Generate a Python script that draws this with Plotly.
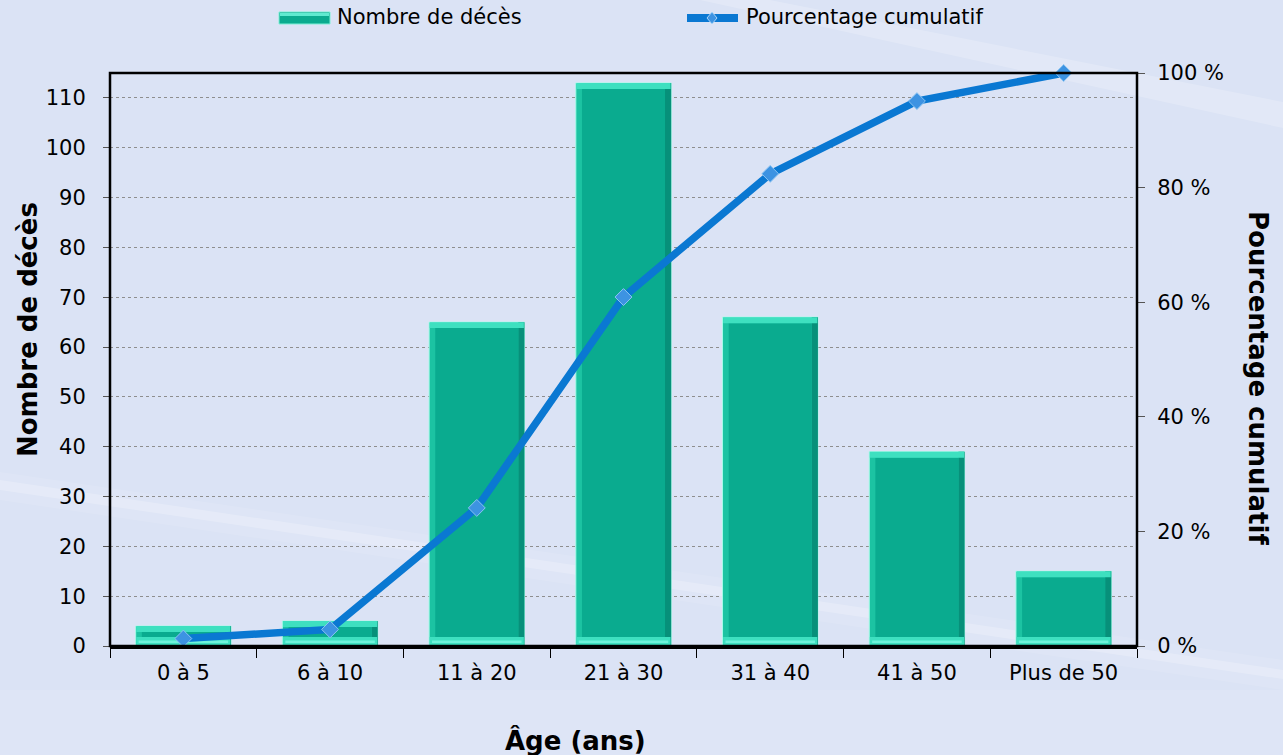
import plotly.graph_objects as go

# Deaths by age group, with cumulative percentage (Pareto view)
age_groups = ["0 à 5", "6 à 10", "11 à 20", "21 à 30", "31 à 40", "41 à 50", "Plus de 50"]
deaths = [4, 5, 65, 113, 66, 39, 15]
cumulative_pct = [1.3, 2.9, 24.1, 60.9, 82.4, 95.1, 100.0]
left_ticks = list(range(0, 111, 10))
right_ticks = [0, 20, 40, 60, 80, 100]
right_tick_text = [f"{v} %" for v in right_ticks]

FONT = "DejaVu Sans"
W, H = 1283, 755
L, R, T, B = 110, 146, 73, 109
PW, PH = W - L - R, H - T - B

BAR_W = 0.65      # bar width, in category units
SIDE = 0.042      # bevel side width, in category units
TOP_BEVEL = 1.2   # bevel heights, in value units
BOT_BEVEL = 1.8

FACE = "#0aab8f"
LIGHT = "#3ee0c0"
SIDE_LIGHT = "#1cc3a2"
SIDE_DARK = "#07907a"
LINE_BLUE = "#0a78d2"


def px_x(p):
    return (p - L) / PW


def px_y(p):
    return (H - B - p) / PH


def bar_layer(y, base, offset, width, color, line=None):
    return go.Bar(
        x=age_groups, y=y, base=base, offset=offset, width=width,
        marker=dict(color=color, line=line or dict(width=0)),
        showlegend=False, hoverinfo="skip",
    )


fig = go.Figure()
n = len(deaths)
half = BAR_W / 2

# bevelled bars: outline, sides, face, top and bottom highlights
fig.add_trace(bar_layer(deaths, [0] * n, -half, BAR_W, SIDE_LIGHT,
                        dict(color="#a6fbe8", width=1)))
fig.add_trace(bar_layer(deaths, [0] * n, half - SIDE, SIDE, SIDE_DARK))
fig.add_trace(bar_layer([max(v - TOP_BEVEL - BOT_BEVEL, 0) for v in deaths],
                        [BOT_BEVEL] * n, -half + SIDE, BAR_W - 2 * SIDE, FACE))
fig.add_trace(bar_layer([TOP_BEVEL] * n, [v - TOP_BEVEL for v in deaths],
                        -half + 0.004, BAR_W - 0.008, LIGHT))
fig.add_trace(bar_layer([BOT_BEVEL] * n, [0] * n,
                        -half + 0.004, BAR_W - 0.008, LIGHT))
fig.add_trace(bar_layer([0.5] * n, [0.6] * n,
                        -half + 0.02, BAR_W - 0.04, "#6ff3da"))

# cumulative percentage line
fig.add_trace(go.Scatter(
    x=age_groups, y=cumulative_pct, yaxis="y2", name="Pourcentage cumulatif",
    mode="lines+markers",
    line=dict(color=LINE_BLUE, width=7.5),
    marker=dict(symbol="diamond", size=13, color="#3d93e2",
                line=dict(color="#8cc4f2", width=1)),
    cliponaxis=False, showlegend=False,
))

shapes = [
    # soft light streaks across the background
    dict(type="path", xref="paper", yref="paper", layer="below",
         path=f"M {px_x(0)},{px_y(472)} L {px_x(1283)},{px_y(660)} L {px_x(1283)},{px_y(690)} "
              f"L {px_x(0)},{px_y(500)} Z",
         fillcolor="rgba(255,255,255,0.10)", line=dict(width=0)),
    dict(type="path", xref="paper", yref="paper", layer="below",
         path=f"M {px_x(0)},{px_y(480)} L {px_x(1283)},{px_y(670)} L {px_x(1283)},{px_y(679)} "
              f"L {px_x(0)},{px_y(490)} Z",
         fillcolor="rgba(255,255,255,0.22)", line=dict(width=0)),
    dict(type="path", xref="paper", yref="paper", layer="below",
         path=f"M {px_x(700)},{px_y(0)} L {px_x(770)},{px_y(0)} L {px_x(1283)},{px_y(102)} "
              f"L {px_x(1283)},{px_y(128)} Z",
         fillcolor="rgba(255,255,255,0.2)", line=dict(width=0)),
    dict(type="path", xref="paper", yref="paper", layer="below",
         path=f"M {px_x(0)},{px_y(690)} L {px_x(1283)},{px_y(690)} L {px_x(1283)},{px_y(755)} "
              f"L {px_x(0)},{px_y(755)} Z",
         fillcolor="rgba(255,255,255,0.10)", line=dict(width=0)),
    # chart frame
    dict(type="rect", xref="paper", yref="paper", x0=0, x1=1, y0=0, y1=1,
         line=dict(color="black", width=2.5), layer="above"),
    # legend keys
    dict(type="rect", xref="paper", yref="paper",
         x0=px_x(279), x1=px_x(330), y0=px_y(24), y1=px_y(12),
         fillcolor=FACE, line=dict(color="#7cf0d6", width=1)),
    dict(type="rect", xref="paper", yref="paper",
         x0=px_x(280), x1=px_x(329), y0=px_y(16), y1=px_y(13),
         fillcolor="#5fead0", line=dict(width=0)),
    dict(type="line", xref="paper", yref="paper",
         x0=px_x(687), x1=px_x(738), y0=px_y(18), y1=px_y(18),
         line=dict(color=LINE_BLUE, width=8)),
    dict(type="path", xref="paper", yref="paper",
         path=f"M {px_x(712)},{px_y(12)} L {px_x(717)},{px_y(18)} L {px_x(712)},{px_y(24)} "
              f"L {px_x(707)},{px_y(18)} Z",
         fillcolor="#3d93e2", line=dict(color="#a9d4f7", width=1)),
]

annotations = [
    dict(text="Nombre de décès", xref="paper", yref="paper",
         x=px_x(335), y=px_y(17), xanchor="left", yanchor="middle", showarrow=False,
         font=dict(size=21, family=FONT, color="black")),
    dict(text="Pourcentage cumulatif", xref="paper", yref="paper",
         x=px_x(744), y=px_y(17), xanchor="left", yanchor="middle", showarrow=False,
         font=dict(size=21, family=FONT, color="black")),
    dict(text="<b>Nombre de décès</b>", xref="paper", yref="paper",
         x=px_x(28), y=px_y(330), xanchor="center", yanchor="middle",
         textangle=-90, showarrow=False,
         font=dict(size=26, family=FONT, color="black")),
    dict(text="<b>Pourcentage cumulatif</b>", xref="paper", yref="paper",
         x=px_x(1258), y=px_y(378), xanchor="center", yanchor="middle",
         textangle=90, showarrow=False,
         font=dict(size=26, family=FONT, color="black")),
    dict(text="<b>Âge (ans)</b>", xref="paper", yref="paper",
         x=px_x(575), y=px_y(740), xanchor="center", yanchor="middle", showarrow=False,
         font=dict(size=26, family=FONT, color="black")),
]

fig.update_layout(
    width=W, height=H,
    margin=dict(l=L, r=R, t=T, b=B, pad=0, autoexpand=False),
    paper_bgcolor="#dbe3f5",
    plot_bgcolor="rgba(0,0,0,0)",
    barmode="overlay",
    showlegend=False,
    font=dict(family=FONT, size=21, color="black"),
    shapes=shapes,
    annotations=annotations,
    xaxis=dict(
        type="category", tickson="boundaries", ticks="outside", ticklen=9,
        tickcolor="black", tickwidth=1, showline=True, linecolor="black", linewidth=2.5,
        showgrid=False, tickfont=dict(size=21), ticklabelstandoff=6,
    ),
    yaxis=dict(
        range=[0, 115], tickvals=left_ticks, ticks="outside", ticklen=6,
        tickcolor="#555", showline=False, zeroline=False,
        showgrid=True, gridcolor="#8e8e8e", griddash="dot", gridwidth=1,
        tickfont=dict(size=21), ticklabelstandoff=13,
    ),
    yaxis2=dict(
        range=[0, 100], tickvals=right_ticks, ticktext=right_tick_text,
        overlaying="y", side="right",
        ticks="outside", ticklen=7, tickcolor="#555", showgrid=False, zeroline=False,
        showline=False, tickfont=dict(size=21), ticklabelstandoff=8,
    ),
)

fig.write_html("out.html")
